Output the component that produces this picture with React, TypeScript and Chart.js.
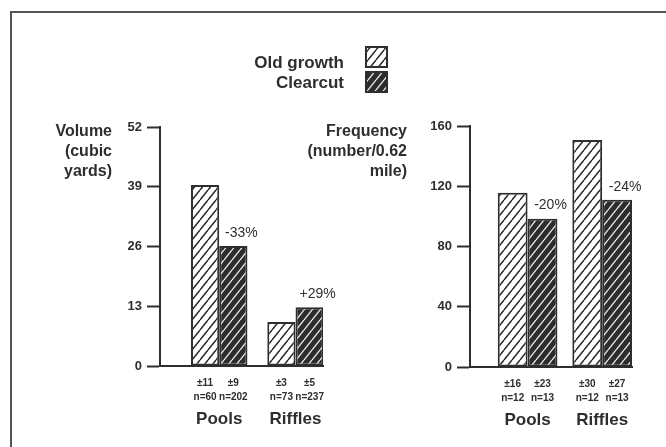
import React, { useEffect, useRef } from 'react';
import { Chart, registerables } from 'chart.js';

Chart.register(...registerables);

const FONT = '"Liberation Sans", Arial, Helvetica, sans-serif';
const INK = '#2e2e2e';

const seriesNames = ['Old growth', 'Clearcut'];
const categories = ['Pools', 'Riffles'];
const categoryPositions = [1, 2];

// Left panel: volume (cubic yards)
const volumeOld = [39.4, 9.6];
const volumeClear = [26.1, 12.8];
const volumeTicks = [0, 13, 26, 39, 52];
const volumeTitle = ['Volume', '(cubic', 'yards)'];
const volumeChange = ['-33%', '+29%'];
const volumeOldSE = ['±11', '±3'];
const volumeOldN = ['n=60', 'n=73'];
const volumeClearSE = ['±9', '±5'];
const volumeClearN = ['n=202', 'n=237'];

// Right panel: frequency (number / 0.62 mile)
const freqOld = [115.7, 150.7];
const freqClear = [98.5, 111];
const freqTicks = [0, 40, 80, 120, 160];
const freqTitle = ['Frequency', '(number/0.62', 'mile)'];
const freqChange = ['-20%', '-24%'];
const freqOldSE = ['±16', '±30'];
const freqOldN = ['n=12', 'n=12'];
const freqClearSE = ['±23', '±27'];
const freqClearN = ['n=13', 'n=13'];

function makeHatch(bg: string, fg: string, lw: number) {
  const c = document.createElement('canvas');
  const w = 8;
  const h = 10;
  c.width = w;
  c.height = h;
  const x = c.getContext('2d')!;
  x.fillStyle = bg;
  x.fillRect(0, 0, w, h);
  x.strokeStyle = fg;
  x.lineWidth = lw;
  x.beginPath();
  for (const o of [-w, 0, w]) {
    x.moveTo(o, h);
    x.lineTo(o + w, 0);
  }
  x.stroke();
  return x.createPattern(c, 'repeat') as CanvasPattern;
}

type Panel = {
  old: number[];
  clear: number[];
  ticks: number[];
  title: string[];
  titleRight: number;
  change: string[];
  oldSE: string[];
  oldN: string[];
  clearSE: string[];
  clearN: string[];
  padLeft: number;
  padRight: number;
  padTop: number;
  padBottom: number;
  xMin: number;
  xMax: number;
  catPct: number;
  withLegend: boolean;
};

function buildChart(canvas: HTMLCanvasElement, p: Panel) {
  const oldPattern = makeHatch('#ffffff', '#2a2a2a', 1.5);
  const clearPattern = makeHatch('#2c2c2c', '#e8e8e8', 1.4);

  const annotations = {
    id: 'annotations',
    afterDraw(chart: any) {
      const ctx = chart.ctx;
      const area = chart.chartArea;
      const xs = chart.scales.x;
      ctx.save();
      ctx.fillStyle = INK;
      ctx.textBaseline = 'middle';
      ctx.textAlign = 'center';
      const lists = [
        [p.oldSE, p.oldN],
        [p.clearSE, p.clearN],
      ];
      for (let d = 0; d < 2; d++) {
        const meta = chart.getDatasetMeta(d);
        meta.data.forEach((bar: any, i: number) => {
          ctx.font = `bold 10px ${FONT}`;
          ctx.fillText(lists[d][0][i], bar.x, area.bottom + 17);
          ctx.fillText(lists[d][1][i], bar.x, area.bottom + 31);
          if (d === 1) {
            ctx.font = `14px ${FONT}`;
            ctx.fillText(p.change[i], bar.x + 8, bar.y - 13);
          }
        });
      }
      ctx.font = `bold 17px ${FONT}`;
      categories.forEach((c, i) => {
        ctx.fillText(c, xs.getPixelForValue(categoryPositions[i]), area.bottom + 53);
      });
      // axis title (horizontal, right aligned)
      ctx.font = `bold 16px ${FONT}`;
      ctx.textAlign = 'right';
      p.title.forEach((t, i) => {
        ctx.fillText(t, p.titleRight, 132 + i * 20);
      });

      if (p.withLegend) {
        // frame
        ctx.strokeStyle = '#555';
        ctx.lineWidth = 2;
        ctx.beginPath();
        ctx.moveTo(11, 447);
        ctx.lineTo(11, 12);
        ctx.lineTo(666, 12);
        ctx.stroke();
        // legend
        const pats = [oldPattern, clearPattern];
        ctx.font = `bold 17px ${FONT}`;
        ctx.textAlign = 'right';
        seriesNames.forEach((n, i) => {
          const cy = 63 + i * 20;
          ctx.fillStyle = INK;
          ctx.fillText(n, 344, cy);
          const by = 47 + i * 25;
          ctx.fillStyle = pats[i];
          ctx.fillRect(366, by, 21, 20);
          ctx.strokeStyle = INK;
          ctx.lineWidth = 2;
          ctx.strokeRect(366, by, 21, 20);
        });
      }
      ctx.restore();
    },
  };

  return new Chart(canvas, {
    type: 'bar',
    data: {
      datasets: [
        {
          label: seriesNames[0],
          data: categoryPositions.map((x, i) => ({ x, y: p.old[i] })),
          backgroundColor: oldPattern,
          borderColor: INK,
          borderWidth: 2,
          borderSkipped: false,
          categoryPercentage: p.catPct,
          barPercentage: 1,
        } as any,
        {
          label: seriesNames[1],
          data: categoryPositions.map((x, i) => ({ x, y: p.clear[i] })),
          backgroundColor: clearPattern,
          borderColor: INK,
          borderWidth: 2,
          borderSkipped: false,
          categoryPercentage: p.catPct,
          barPercentage: 1,
        } as any,
      ],
    },
    options: {
      responsive: false,
      animation: false,
      events: [],
      layout: {
        padding: { left: p.padLeft, right: p.padRight, top: p.padTop, bottom: p.padBottom },
      },
      plugins: {
        legend: { display: false },
        tooltip: { enabled: false },
      },
      scales: {
        x: {
          type: 'linear',
          min: p.xMin,
          max: p.xMax,
          offset: false,
          afterBuildTicks: (s: any) => {
            s.ticks = categoryPositions.map((v) => ({ value: v }));
          },
          afterFit: (s: any) => {
            s.height = 0;
          },
          ticks: { display: false },
          grid: { display: false },
          border: { display: true, color: INK, width: 2 },
        },
        y: {
          min: p.ticks[0],
          max: p.ticks[p.ticks.length - 1],
          afterBuildTicks: (s: any) => {
            s.ticks = p.ticks.map((v) => ({ value: v }));
          },
          afterFit: (s: any) => {
            s.width = 60;
          },
          ticks: {
            color: INK,
            padding: 5,
            font: { family: FONT, size: 13, weight: 'bold' },
          },
          grid: {
            drawOnChartArea: false,
            drawTicks: true,
            tickLength: 13,
            tickColor: INK,
            tickWidth: 2,
            color: INK,
          },
          border: { display: true, color: INK, width: 2 },
        },
      } as any,
    },
    plugins: [annotations],
  } as any);
}

export default function App() {
  const leftRef = useRef<HTMLCanvasElement>(null);
  const rightRef = useRef<HTMLCanvasElement>(null);

  useEffect(() => {
    const left = buildChart(leftRef.current!, {
      old: volumeOld,
      clear: volumeClear,
      ticks: volumeTicks,
      title: volumeTitle,
      titleRight: 112,
      change: volumeChange,
      oldSE: volumeOldSE,
      oldN: volumeOldN,
      clearSE: volumeClearSE,
      clearN: volumeClearN,
      padLeft: 100,
      padRight: 343,
      padTop: 127,
      padBottom: 81,
      xMin: 0.224,
      xMax: 2.36,
      catPct: 0.74,
      withLegend: true,
    });
    const right = buildChart(rightRef.current!, {
      old: freqOld,
      clear: freqClear,
      ticks: freqTicks,
      title: freqTitle,
      titleRight: 407,
      change: freqChange,
      oldSE: freqOldSE,
      oldN: freqOldN,
      clearSE: freqClearSE,
      clearN: freqClearN,
      padLeft: 410,
      padRight: 34,
      padTop: 126,
      padBottom: 80,
      xMin: 0.228,
      xMax: 2.4,
      catPct: 0.8,
      withLegend: false,
    });
    return () => {
      left.destroy();
      right.destroy();
    };
  }, []);

  const canvasStyle: React.CSSProperties = { position: 'absolute', left: 0, top: 0 };
  return (
    <div style={{ position: 'fixed', left: 0, top: 0, width: 666, height: 447, background: '#ffffff' }}>
      <canvas ref={leftRef} width={666} height={447} style={canvasStyle} />
      <canvas ref={rightRef} width={666} height={447} style={canvasStyle} />
    </div>
  );
}
